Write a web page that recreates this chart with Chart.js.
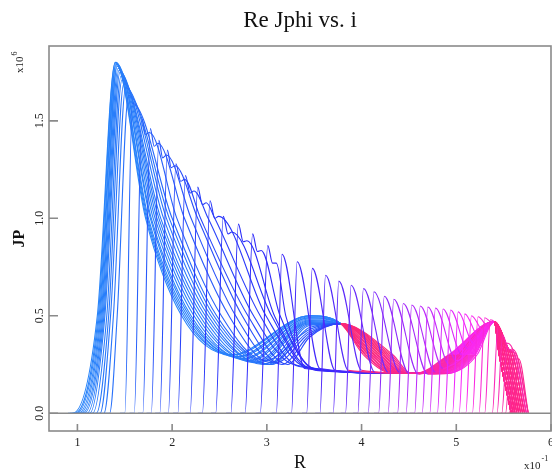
<!DOCTYPE html>
<html>
<head>
<meta charset="utf-8">
<script src="https://cdn.jsdelivr.net/npm/chart.js@4.4.0/dist/chart.umd.min.js"></script>
<style>
  html, body { margin: 0; padding: 0; background: #fff; }
  #wrap { width: 552px; height: 472px; }
</style>
</head>
<body>
<div id="wrap"><canvas id="jp" width="552" height="472"></canvas></div>
<script>
// axes
const xTicks = [1, 2, 3, 4, 5, 6];
const yTicks = [0.0, 0.5, 1.0, 1.5];

// one profile per step i: where Jphi leaves zero, crest of the spike
const footR = [0.95, 0.97, 0.99, 1.01, 1.03, 1.05, 1.07, 1.10, 1.13, 1.16, 1.20, 1.24, 1.28, 1.34,
               1.50, 1.60, 1.69, 1.78, 1.87, 1.96, 2.06, 2.19, 2.32, 2.46, 2.62, 2.77, 2.93,
               3.10, 3.26, 3.42, 3.56, 3.70, 3.83, 3.96, 4.07, 4.18, 4.28, 4.38,
               4.47, 4.56, 4.64, 4.72, 4.80, 4.88, 4.96, 5.03, 5.10, 5.17, 5.24, 5.30,
               5.38, 5.43, 5.48, 5.52, 5.56, 5.60];
const kneeR = [1.21, 1.22, 1.23, 1.24, 1.25, 1.26, 1.27, 1.28, 1.29, 1.31, 1.33, 1.35, 1.38, 1.42,
               null, null, null, null, null, null, null, null, null, null, null, null, null,
               null, null, null, null, null, null, null, null, null, null, null,
               null, null, null, null, null, null, null, null, null, null, null, null,
               null, null, null, null, null, null];
const peakR = [1.40, 1.40, 1.41, 1.41, 1.42, 1.42, 1.43, 1.44, 1.45, 1.46, 1.47, 1.49, 1.51, 1.54,
               1.58, 1.68, 1.77, 1.86, 1.95, 2.04, 2.14, 2.27, 2.40, 2.54, 2.70, 2.85, 3.01,
               3.16, 3.32, 3.48, 3.62, 3.76, 3.89, 4.02, 4.13, 4.24, 4.34, 4.44,
               4.53, 4.62, 4.70, 4.78, 4.86, 4.94, 5.02, 5.09, 5.16, 5.23, 5.30, 5.36,
               5.44, 5.49, 5.54, 5.58, 5.62, 5.66];
const peakJ = [1.80, 1.80, 1.80, 1.79, 1.79, 1.78, 1.77, 1.76, 1.75, 1.73, 1.71, 1.69, 1.67, 1.63,
               1.59, 1.51, 1.46, 1.40, 1.35, 1.28, 1.22, 1.16, 1.09, 1.01, 0.97, 0.92, 0.86,
               0.816, 0.777, 0.743, 0.708, 0.678, 0.657, 0.640, 0.623, 0.600, 0.585, 0.563,
               0.555, 0.550, 0.545, 0.540, 0.535, 0.530, 0.520, 0.510, 0.500, 0.495, 0.490, 0.480,
               0.44, 0.40, 0.36, 0.33, 0.31, 0.28];

// small notch just behind the crest of the middle spikes
const dipR  = [null, null, null, null, null, null, null, null, null, null, null, null, null, null,
               null, 1.72, 1.81, 1.90, 1.99, 2.09, 2.19, 2.32, 2.45, 2.59, 2.75, 2.90, 3.06];
const dipJ  = [null, null, null, null, null, null, null, null, null, null, null, null, null, null,
               null, 1.43, 1.37, 1.31, 1.26, 1.19, 1.13, 1.07, 1.00, 0.92, 0.88, 0.83, 0.77];
const bumpR = [null, null, null, null, null, null, null, null, null, null, null, null, null, null,
               null, 1.76, 1.85, 1.94, 2.03, 2.13, 2.23, 2.36, 2.49, 2.63, 2.79, 2.94, 3.10];
const bumpJ = [null, null, null, null, null, null, null, null, null, null, null, null, null, null,
               null, 1.44, 1.385, 1.325, 1.27, 1.20, 1.14, 1.08, 1.01, 0.93, 0.885, 0.835, 0.77];

// fall after the crest: R at J = 1.0 and J = 0.5, then landing point on the floor
const oneR = [1.72, 1.73, 1.74, 1.75, 1.77, 1.78, 1.80, 1.82, 1.84, 1.86, 1.88, 1.91, 1.94, 1.97,
              2.00, 2.05, 2.13, 2.20, 2.27, 2.30, 2.38, 2.45, null, null, null, null, null,
              null, null, null, null, null, null, null, null, null, null, null,
              null, null, null, null, null, null, null, null, null, null, null, null,
              null, null, null, null, null, null];
const halfR = [2.10, 2.12, 2.14, 2.16, 2.18, 2.20, 2.23, 2.26, 2.29, 2.32, 2.35, 2.38, 2.41, 2.44,
               2.47, 2.52, 2.60, 2.67, 2.74, 2.80, 2.86, 2.93, 2.99, 3.05, 3.08, 3.14, 3.20,
               null, null, null, null, null, null, null, null, null, null, null,
               null, null, null, null, null, null, null, null, null, null, null, null,
               null, null, null, null, null, null];
const landR = [2.62, 2.65, 2.68, 2.71, 2.74, 2.77, 2.80, 2.83, 2.86, 2.89, 2.92, 2.96, 3.00, 3.03,
               3.05, 2.98, 3.04, 3.10, 3.16, 3.22, 3.28, 3.34, 3.40, 3.44, 3.46, 3.50, 3.52,
               3.40, 3.56, 3.72, 3.86, 4.00, 4.14, 4.28, 4.40, 4.50, 4.60, 4.70,
               4.78, 4.86, 4.93, 5.00, 5.06, 5.12, 5.18, 5.24, 5.29, 5.34, 5.38, null,
               null, null, null, null, null, null];
const landJ = [0.30, 0.30, 0.29, 0.29, 0.28, 0.28, 0.27, 0.27, 0.26, 0.26, 0.26, 0.25, 0.25, 0.25,
               0.25, 0.27, 0.26, 0.26, 0.25, 0.25, 0.25, 0.24, 0.24, 0.23, 0.23, 0.23, 0.22,
               0.23, 0.23, 0.22, 0.22, 0.22, 0.21, 0.21, 0.21, 0.205, 0.20, 0.20,
               0.21, 0.23, 0.245, 0.27, 0.30, 0.33, 0.36, 0.39, 0.42, 0.445, 0.465, null,
               null, null, null, null, null, null];

// crest of the middle hump for profiles that ride over it (the rest stay on the shelf)
const humpTop = [0.50, 0.50, 0.50, 0.495, 0.49, 0.49, 0.485, 0.48, 0.475, 0.47, 0.465, 0.46, 0.455, 0.45,
                 0.44, 0.43, 0.42, 0.41, 0.40, 0.39];
// outer floor: R at J = 0.3 going down, centre of the trough, R at J = 0.3 coming up
const bandR = [4.02, 4.04, 4.05, 4.07, 4.08, 4.10, 4.11, 4.13, 4.14, 4.16, 4.17, 4.19, 4.20, 4.22,
               4.23, 4.25, 4.27, 4.29, 4.31, 4.33];
const valR  = [4.45, 4.46, 4.47, 4.48, 4.49, 4.50, 4.51, 4.52, 4.53, 4.54, 4.55, 4.56, 4.57, 4.58,
               4.59, 4.60, 4.61, 4.62, 4.63, 4.64,
               4.55, 4.57, 4.59, 4.61, 4.63, 4.65, 4.66,
               4.67, 4.68, 4.69, 4.70, 4.71, 4.72, 4.73, 4.75, 4.77, 4.79, 4.81];
const rampR = [4.92, 4.93, 4.94, 4.95, 4.96, 4.97, 4.98, 4.99, 5.00, 5.01, 5.02, 5.03, 5.04, 5.05,
               5.06, 5.07, 5.08, 5.09, 5.10, 5.11,
               4.98, 5.00, 5.02, 5.04, 5.06, 5.08, 5.10,
               5.11, 5.12, 5.13, 5.14, 5.15, 5.16, 5.17, 5.18, 5.19, 5.20, 5.22];
// where each profile drops back to zero at the outer edge
const endR = [5.58, 5.58, 5.58, 5.58, 5.58, 5.58, 5.58, 5.58, 5.58, 5.58, 5.58, 5.58, 5.58, 5.58,
              5.60, 5.60, 5.60, 5.60, 5.60, 5.60, 5.62, 5.62, 5.62, 5.62, 5.62, 5.62, 5.62,
              5.64, 5.64, 5.64, 5.64, 5.64, 5.66, 5.66, 5.66, 5.66, 5.66, 5.66,
              5.68, 5.68, 5.68, 5.68, 5.70, 5.70, 5.70, 5.70, 5.72, 5.72, 5.72, 5.72,
              5.74, 5.74, 5.74, 5.76, 5.76, 5.76];
// shared pieces of the floor
const humpAt = 3.45;
const humpEnd = [3.78, 0.46];
const troughJ = 0.205;
const ridge = [5.40, 0.47];
const step = [5.55, 0.33];
const ledgeJ = 0.31;
const ledgeLen = 0.13;

// line colour: blue -> violet -> magenta with the inner edge; the outer floor runs pink to magenta
const hueStops = [[0.9, 213], [1.4, 220], [2.0, 232], [3.0, 244], [3.6, 252], [4.0, 262], [4.5, 280], [5.0, 298], [5.6, 330]];
const floorHue = [[3.7, 338], [4.4, 330], [4.75, 320], [5.0, 302], [5.4, 306]];
const tailHue = 332;
const floorFrom = 3.76;

function lerpStops(stops, r) {
  if (r <= stops[0][0]) return stops[0][1];
  for (let k = 1; k < stops.length; k++) {
    const [r1, h1] = stops[k];
    const [r0, h0] = stops[k - 1];
    if (r <= r1) return h0 + (h1 - h0) * (r - r0) / (r1 - r0);
  }
  return stops[stops.length - 1][1];
}

function profile(i) {
  const pts = [{x: footR[i] - 0.05, y: 0}, {x: footR[i], y: 0}];
  const add = (r, j) => {
    if (r == null) return;
    if (r > pts[pts.length - 1].x + 0.015) pts.push({x: r, y: j});
  };
  if (kneeR[i] !== null) add(kneeR[i], 0.5);
  add(peakR[i], peakJ[i]);
  if (dipR[i] != null) { add(dipR[i], dipJ[i]); add(bumpR[i], bumpJ[i]); }
  if (oneR[i] !== null) add(oneR[i], 1.0);
  if (halfR[i] !== null) add(halfR[i], 0.5);
  let from = peakR[i];
  if (landR[i] !== null) {
    add(landR[i], landJ[i]);
    from = landR[i];
  }
  if (humpTop[i] != null) {
    add(humpAt, humpTop[i]);
    add(humpEnd[0], humpEnd[1]);
    add(bandR[i], 0.30);
  }
  if (valR[i] != null) {
    add(valR[i] - 0.12, troughJ);
    add(valR[i] + 0.12, troughJ);
    add(rampR[i], 0.30);
  }
  add(ridge[0], ridge[1]);
  const ledgeR = endR[i] - ledgeLen;
  if (ledgeR > step[0] + 0.02) add(step[0], step[1]);
  add(ledgeR, ledgeJ);
  add(endR[i], 0);
  return {pts, from};
}

const datasets = footR.map((f, i) => {
  const {pts, from} = profile(i);
  const start = Math.max(floorFrom, from - 0.001);
  const onFloor = landR[i] !== null;
  return {
    data: pts,
    borderColor: `hsl(${lerpStops(hueStops, f).toFixed(1)}, 95%, 57%)`,
    segment: {
      borderColor: c => {
        const r = c.p0.parsed.x;
        if (r >= ridge[0] - 0.001 && f < ridge[0]) return `hsl(${tailHue}, 100%, 57%)`;
        if (onFloor && r >= start) return `hsl(${lerpStops(floorHue, r).toFixed(1)}, 95%, 57%)`;
        return undefined;
      }
    },
    borderWidth: 1.1,
    pointRadius: 0,
    showLine: true,
    fill: false,
    cubicInterpolationMode: 'monotone',
    order: footR.length - i
  };
});

const serif = '"Liberation Serif", "DejaVu Serif", serif';

// frame, inward ticks, zero line and all labels
const framePlugin = {
  id: 'frame',
  afterDatasetsDraw(chart) {
    const {ctx, chartArea: a, scales: {x, y}} = chart;
    ctx.save();
    ctx.strokeStyle = '#8a8a8a';
    ctx.lineWidth = 1.6;
    const y0 = y.getPixelForValue(0);
    ctx.beginPath();
    ctx.moveTo(a.left, y0); ctx.lineTo(a.right, y0);
    ctx.stroke();
    ctx.strokeRect(a.left, a.top, a.right - a.left, a.bottom - a.top);
    ctx.beginPath();
    yTicks.forEach(v => {
      const py = y.getPixelForValue(v);
      ctx.moveTo(a.left, py); ctx.lineTo(a.left + 9, py);
    });
    xTicks.forEach(v => {
      const px = x.getPixelForValue(v);
      ctx.moveTo(px, a.bottom); ctx.lineTo(px, a.bottom - 7);
    });
    ctx.stroke();

    ctx.fillStyle = '#222';
    ctx.font = `12px ${serif}`;
    ctx.textAlign = 'center';
    ctx.textBaseline = 'alphabetic';
    xTicks.forEach(v => ctx.fillText(String(v), x.getPixelForValue(v), 446));
    yTicks.forEach(v => {
      ctx.save();
      ctx.translate(43, y.getPixelForValue(v));
      ctx.rotate(-Math.PI / 2);
      ctx.fillText(v.toFixed(1), 0, 0);
      ctx.restore();
    });

    // x10^6 along the y axis
    ctx.save();
    ctx.translate(23, 73);
    ctx.rotate(-Math.PI / 2);
    ctx.textAlign = 'left';
    ctx.font = `11px ${serif}`;
    ctx.fillText('x10', 0, 0);
    const w = ctx.measureText('x10').width;
    ctx.font = `8px ${serif}`;
    ctx.fillText('6', w + 1, -6);
    ctx.restore();

    // x10^-1 under the right end of the x axis
    ctx.textAlign = 'left';
    ctx.font = `11px ${serif}`;
    ctx.fillText('x10', 524, 469);
    const w2 = ctx.measureText('x10').width;
    ctx.font = `8px ${serif}`;
    ctx.fillText('-1', 524 + w2 + 1, 461);

    ctx.fillStyle = '#111';
    ctx.textAlign = 'center';
    ctx.font = `18px ${serif}`;
    ctx.fillText('R', (a.left + a.right) / 2, 468);
    ctx.save();
    ctx.translate(24, (a.top + a.bottom) / 2);
    ctx.rotate(-Math.PI / 2);
    ctx.font = `bold 16px ${serif}`;
    ctx.fillText('JP', 0, 0);
    ctx.restore();

    ctx.font = `23px ${serif}`;
    ctx.fillText('Re Jphi vs. i', (a.left + a.right) / 2, 27);
    ctx.restore();
  }
};

new Chart(document.getElementById('jp'), {
  type: 'scatter',
  data: {datasets},
  options: {
    responsive: false,
    animation: false,
    layout: {padding: {left: 49, right: 1, top: 46, bottom: 41}},
    plugins: {legend: {display: false}, tooltip: {enabled: false}, title: {display: false}},
    scales: {
      x: {type: 'linear', min: 0.7, max: 6.0, display: false},
      y: {type: 'linear', min: -0.091, max: 1.884, display: false}
    }
  },
  plugins: [framePlugin]
});
</script>
</body>
</html>
